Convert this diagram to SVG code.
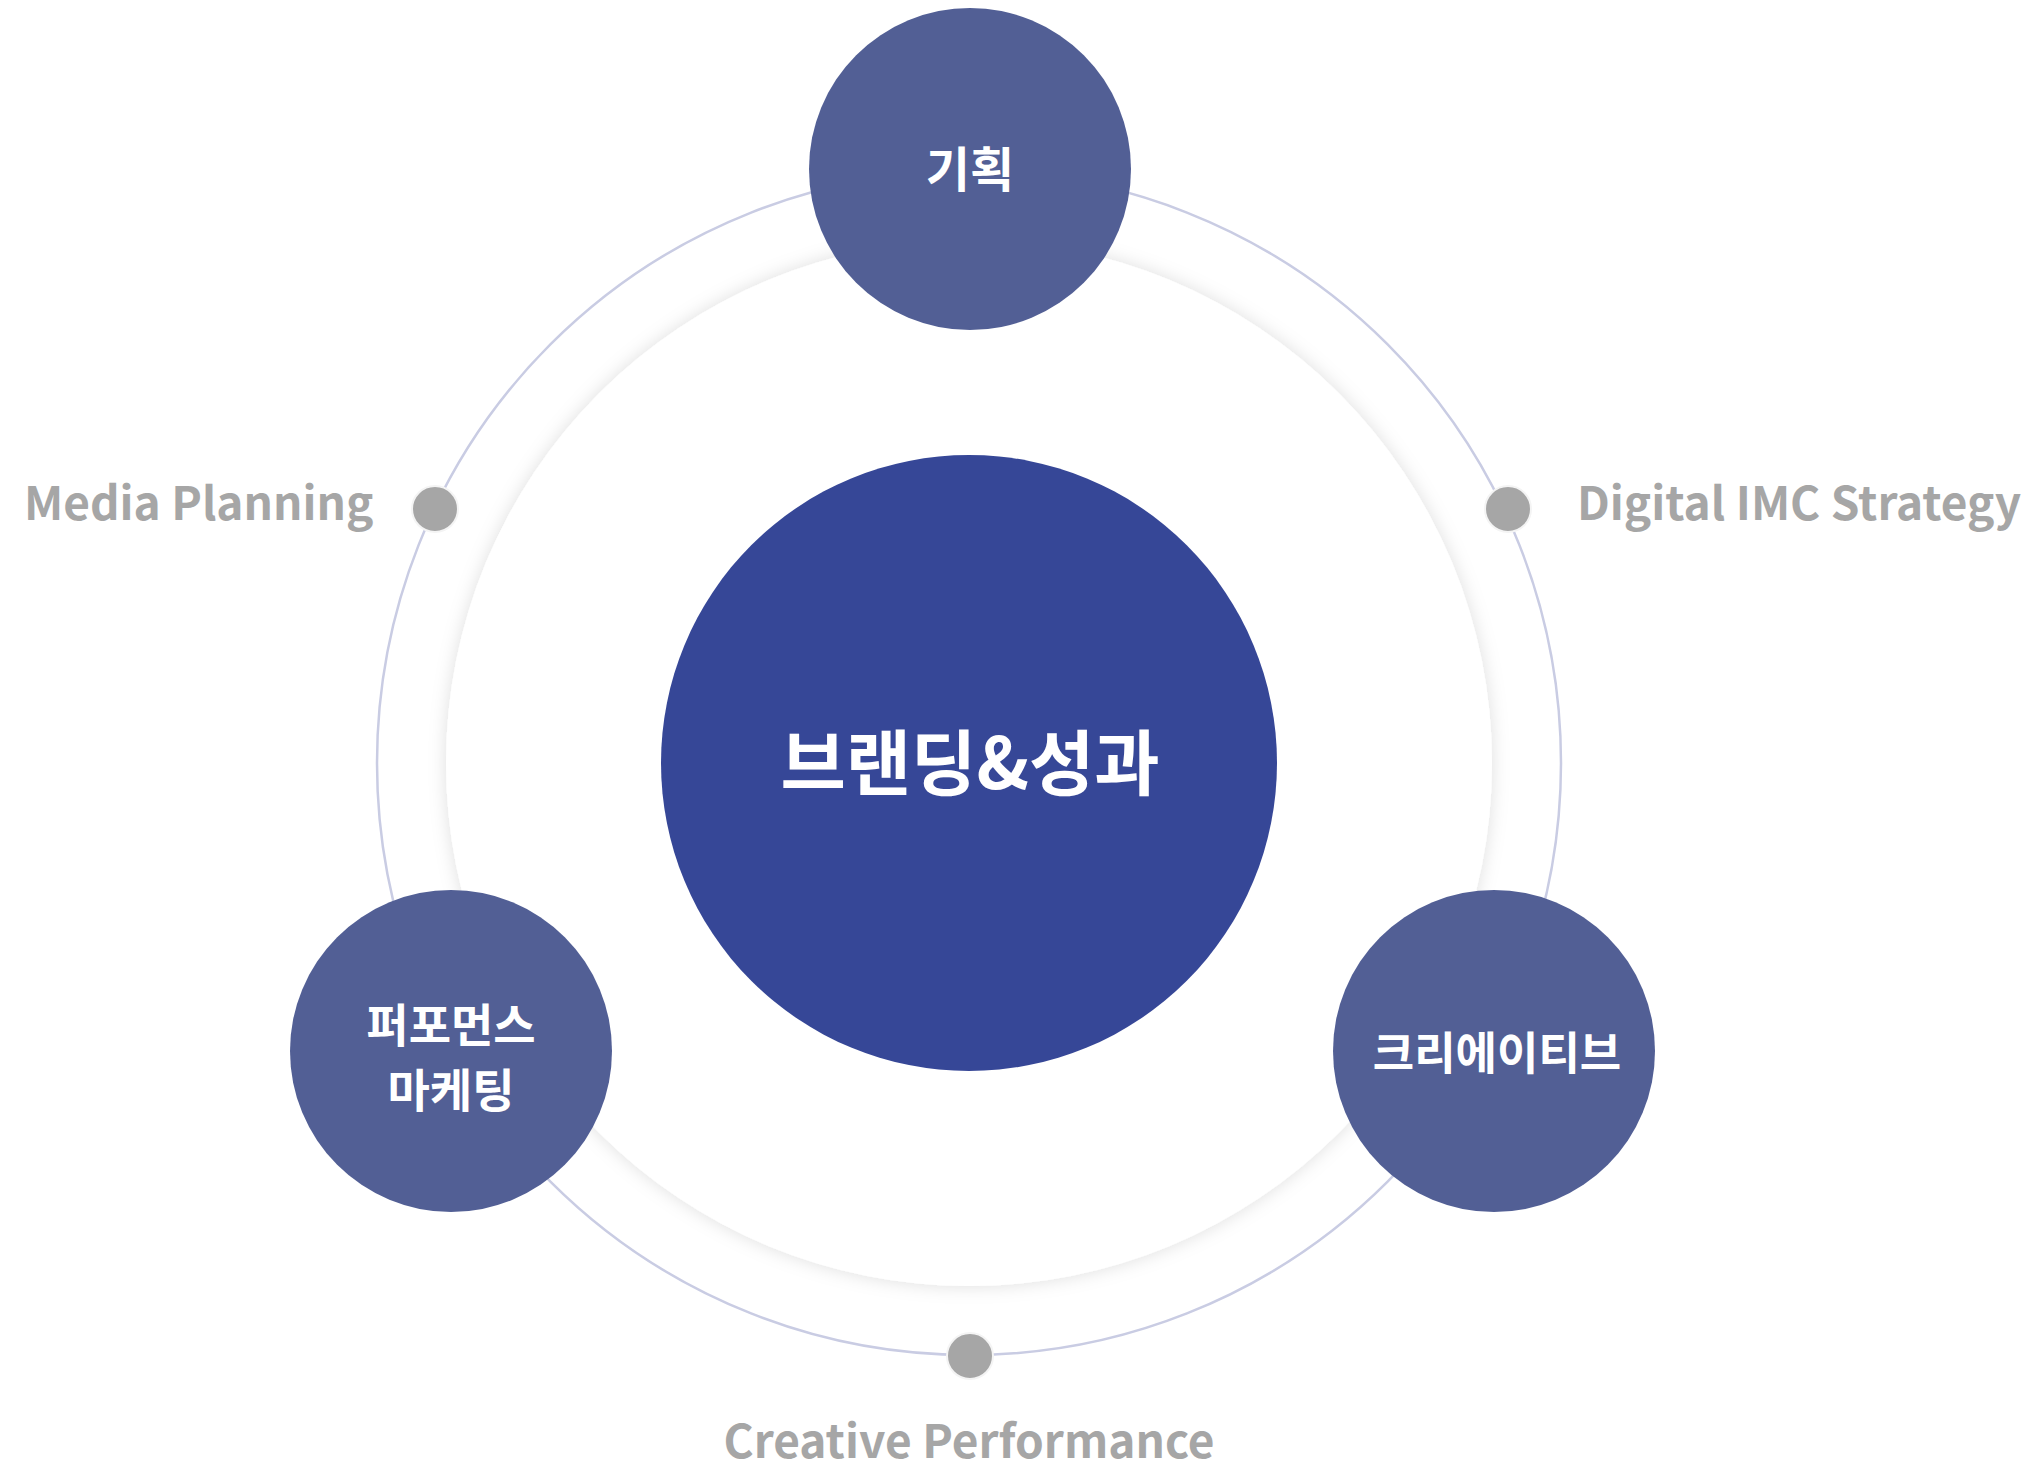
<svg xmlns="http://www.w3.org/2000/svg" width="2025" height="1468" viewBox="0 0 2025 1468">
<defs>
<filter id="sh" x="-20%" y="-20%" width="140%" height="140%">
<feDropShadow dx="0" dy="0" stdDeviation="9" flood-color="#000" flood-opacity="0.13"/>
</filter>
<style>
.node{fill:#525f95}
.kr{font-family:"Noto Sans CJK KR","Noto Sans",sans-serif;font-weight:700;fill:#fff;text-anchor:middle}
.en{font-family:"Noto Sans CJK KR","Noto Sans",sans-serif;font-weight:700;fill:#a6a6a6;font-size:46px}
.dot{fill:#a6a6a6;stroke:#f4f4f4;stroke-width:2}
</style>
</defs>
<rect width="2025" height="1468" fill="#fff"/>
<g id="connectors">
<circle cx="969" cy="763" r="592" fill="none" stroke="#c9cce3" stroke-width="2.5"/>
</g>
<g id="ring">
<circle cx="969" cy="763" r="523" fill="#fff" filter="url(#sh)"/>
</g>
<g id="center">
<circle cx="969" cy="763" r="308" fill="#364797"/>
<text class="kr" x="970" y="789" font-size="71">브랜딩&amp;성과</text>
</g>
<g id="node-plan">
<circle class="node" cx="970" cy="169" r="161"/>
<text class="kr" x="970" y="187" font-size="48">기획</text>
</g>
<g id="node-perf">
<circle class="node" cx="451" cy="1051" r="161"/>
<text class="kr" x="451" y="1042" font-size="46">퍼포먼스</text>
<text class="kr" x="451" y="1107" font-size="46">마케팅</text>
</g>
<g id="node-creative">
<circle class="node" cx="1494" cy="1051" r="161"/>
<text class="kr" x="1497" y="1070" font-size="45">크리에이티브</text>
</g>
<g id="dot-media">
<circle class="dot" cx="435" cy="509" r="23"/>
<text class="en" x="24" y="520">Media Planning</text>
</g>
<g id="dot-digital">
<circle class="dot" cx="1508" cy="509" r="23"/>
<text class="en" x="1577" y="520">Digital IMC Strategy</text>
</g>
<g id="dot-creative">
<circle class="dot" cx="970" cy="1356" r="23"/>
<text class="en" x="969" y="1458" text-anchor="middle">Creative Performance</text>
</g>
</svg>
